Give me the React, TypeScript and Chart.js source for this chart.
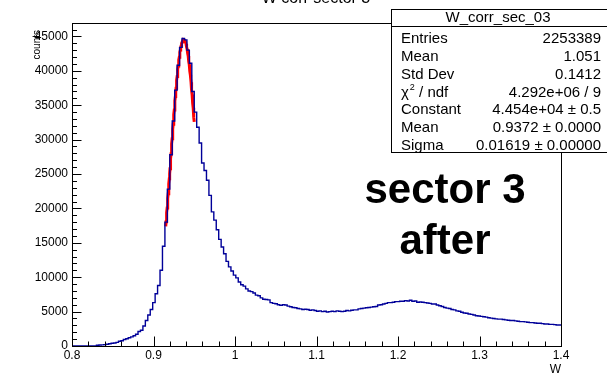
import { useEffect, useRef } from "react";
import { Chart, registerables } from "chart.js";

Chart.register(...registerables);

// Histogram definition: 200 bins of W between 0.8 and 1.4
const HIST_NAME = "W_corr_sec_03";
const TITLE = "W corr sector 3";
const X_TITLE = "W";
const Y_TITLE = "counts";
const BIN_LOW = 0.8;
const BIN_HIGH = 1.4;
const BIN_WIDTH = 0.003;

const COUNTS = [
  0, 0, 0, 0, 0, 0, 0, 0, 0, 0,
  100, 150, 170, 200, 260, 330, 390, 430, 520, 700,
  760, 950, 1050, 1200, 1320, 1500, 1700, 2100, 2300, 2900,
  3700, 4500, 5300, 6300, 7600, 8800, 11000, 14500, 18000, 22800,
  27800, 32700, 37200, 40800, 43400, 44700, 44500, 43000, 41100, 37000,
  34000, 31800, 29500, 26600, 25500, 24100, 21900, 19500, 18300, 16900,
  15500, 14400, 13400, 12300, 11500, 10900, 10300, 9900, 9300, 8900,
  8700, 8300, 8000, 7900, 7700, 7400, 7300, 7000, 6800, 6750,
  6700, 6300, 6200, 6150, 6000, 5900, 6000, 5950, 5800, 5700,
  5600, 5550, 5450, 5400, 5300, 5350, 5300, 5200, 5250, 5150,
  5050, 5100, 5000, 5050, 4950, 5000, 5050, 5000, 5100, 5050,
  5000, 5050, 5150, 5100, 5200, 5250, 5250, 5400, 5450, 5500,
  5550, 5600, 5650, 5700, 5750, 5950, 6000, 6100, 6200, 6300,
  6300, 6350, 6450, 6450, 6500, 6500, 6600, 6550, 6650, 6500,
  6550, 6350, 6400, 6350, 6300, 6250, 6200, 6100, 6100, 5950,
  5850, 5750, 5600, 5500, 5450, 5300, 5250, 5100, 5050, 4900,
  4800, 4750, 4650, 4600, 4500, 4400, 4350, 4300, 4250, 4200,
  4100, 4050, 4000, 3950, 3900, 3900, 3850, 3800, 3750, 3700,
  3700, 3650, 3600, 3550, 3550, 3500, 3450, 3400, 3400, 3350,
  3300, 3300, 3250, 3200, 3200, 3150, 3150, 3100, 3050, 3050,
];

// Axis ticks
const X_TICKS = [0.8, 0.9, 1.0, 1.1, 1.2, 1.3, 1.4];
const X_TICK_LABELS = ["0.8", "0.9", "1", "1.1", "1.2", "1.3", "1.4"];
const X_MINOR_STEP = 0.02;
const Y_TICKS = [0, 5000, 10000, 15000, 20000, 25000, 30000, 35000, 40000, 45000];
const Y_TICK_LABELS = ["0", "5000", "10000", "15000", "20000", "25000", "30000", "35000", "40000", "45000"];
const Y_MINOR_STEP = 1000;
const Y_MAX = 46950;

// Gaussian fit result
const FIT_CONSTANT = 4.454e4;
const FIT_MEAN = 0.9372;
const FIT_SIGMA = 0.01619;
const FIT_RANGE = [0.915, 0.95];
const FIT_SAMPLES = 80;

// Statistics box rows
const STATS_LABELS = ["Entries", "Mean", "Std Dev", "χ2 / ndf", "Constant", "Mean", "Sigma"];
const STATS_VALUES = [
  "2253389",
  "1.051",
  "0.1412",
  "4.292e+06 / 9",
  "4.454e+04 ± 0.5",
  "0.9372 ± 0.0000",
  "0.01619 ± 0.00000",
];

const NOTE_LINES = ["sector 3", "after"];

const FONT = "'Liberation Sans', Arial, Helvetica, sans-serif";
const HIST_COLOR = "#000099";
const FIT_COLOR = "#ff0000";

function gauss(x: number): number {
  const d = (x - FIT_MEAN) / FIT_SIGMA;
  return FIT_CONSTANT * Math.exp(-0.5 * d * d);
}

const rootDecorations = {
  id: "rootDecorations",
  afterDatasetsDraw(chart: any) {
    const { ctx, chartArea: a, scales } = chart;
    const xs = scales.x;
    const ys = scales.y;
    const L = Math.round(a.left) + 0.5;
    const B = Math.round(a.bottom) + 0.5;
    ctx.save();
    ctx.strokeStyle = "#000";
    ctx.lineWidth = 1;
    // frame
    ctx.strokeRect(L, Math.round(a.top) + 0.5, Math.round(a.right - a.left), Math.round(a.bottom - a.top));
    ctx.beginPath();
    // y ticks (inside the frame, on the left axis)
    const nY = Math.floor(Y_MAX / Y_MINOR_STEP);
    for (let k = 0; k <= nY; k++) {
      const v = k * Y_MINOR_STEP;
      const y = Math.round(ys.getPixelForValue(v)) + 0.5;
      const len = k % 5 === 0 ? 9 : 4.5;
      ctx.moveTo(L, y);
      ctx.lineTo(L + len, y);
    }
    // x ticks (inside the frame, on the bottom axis)
    const nX = Math.round((BIN_HIGH - BIN_LOW) / X_MINOR_STEP);
    for (let k = 0; k <= nX; k++) {
      const v = BIN_LOW + k * X_MINOR_STEP;
      const x = Math.round(xs.getPixelForValue(v)) + 0.5;
      const len = k % 5 === 0 ? 10 : 5;
      ctx.moveTo(x, B);
      ctx.lineTo(x, B - len);
    }
    ctx.stroke();
    ctx.restore();
  },
  afterDraw(chart: any) {
    const { ctx, chartArea: a } = chart;
    ctx.save();
    ctx.fillStyle = "#000";

    // histogram title (partly above the canvas edge)
    ctx.font = `16px ${FONT}`;
    ctx.textAlign = "center";
    ctx.textBaseline = "alphabetic";
    ctx.fillText(TITLE, 316, 3);

    // axis titles
    ctx.font = `12px ${FONT}`;
    ctx.textAlign = "right";
    ctx.fillText(X_TITLE, a.right, 373);
    ctx.save();
    ctx.translate(40, 30);
    ctx.rotate(-Math.PI / 2);
    ctx.font = `10px ${FONT}`;
    ctx.textAlign = "right";
    ctx.textBaseline = "alphabetic";
    ctx.fillText(Y_TITLE, 0, 0);
    ctx.restore();

    // statistics box
    const bx = 391.5, by = 9.5, bw = 220, bh = 143;
    ctx.fillStyle = "#fff";
    ctx.fillRect(bx, by, bw, bh);
    ctx.strokeStyle = "#000";
    ctx.lineWidth = 1;
    ctx.strokeRect(bx, by, bw, bh);
    ctx.beginPath();
    ctx.moveTo(bx, 26.5);
    ctx.lineTo(bx + bw, 26.5);
    ctx.stroke();
    ctx.fillStyle = "#000";
    ctx.font = `15px ${FONT}`;
    ctx.textBaseline = "middle";
    ctx.textAlign = "center";
    ctx.fillText(HIST_NAME, 498, 18);
    const rowTop = 39;
    const rowStep = 17.8;
    STATS_LABELS.forEach((label, i) => {
      const y = rowTop + i * rowStep;
      ctx.textAlign = "left";
      if (label.startsWith("χ2")) {
        ctx.font = `15px ${FONT}`;
        ctx.fillText("χ", 401, y);
        const w1 = ctx.measureText("χ").width;
        ctx.font = `9px ${FONT}`;
        ctx.fillText("2", 401 + w1 + 1, y - 5);
        const w2 = ctx.measureText("2").width;
        ctx.font = `15px ${FONT}`;
        ctx.fillText(label.slice(2), 401 + w1 + w2 + 1, y);
      } else {
        ctx.font = `15px ${FONT}`;
        ctx.fillText(label, 401, y);
      }
      ctx.textAlign = "right";
      ctx.font = `15px ${FONT}`;
      ctx.fillText(STATS_VALUES[i], 601, y);
    });

    // annotation
    ctx.font = `bold 42px ${FONT}`;
    ctx.textAlign = "center";
    ctx.textBaseline = "alphabetic";
    NOTE_LINES.forEach((line, i) => ctx.fillText(line, 445, 203 + i * 51));
    ctx.restore();
  },
};

export default function App() {
  const canvasRef = useRef<HTMLCanvasElement | null>(null);

  useEffect(() => {
    const canvas = canvasRef.current;
    if (!canvas) return;

    const histPoints = COUNTS.map((c, i) => ({ x: BIN_LOW + i * BIN_WIDTH, y: c }));
    histPoints.push({ x: BIN_HIGH, y: COUNTS[COUNTS.length - 1] });

    const fitPoints: { x: number; y: number }[] = [];
    for (let k = 0; k <= FIT_SAMPLES; k++) {
      const x = FIT_RANGE[0] + ((FIT_RANGE[1] - FIT_RANGE[0]) * k) / FIT_SAMPLES;
      fitPoints.push({ x, y: gauss(x) });
    }

    const tickFont = { family: FONT, size: 12 };

    const chart = new Chart(canvas, {
      type: "line",
      data: {
        datasets: [
          {
            data: histPoints,
            borderColor: HIST_COLOR,
            borderWidth: 1.4,
            stepped: "before",
            pointRadius: 0,
            fill: false,
          },
          {
            data: fitPoints,
            borderColor: FIT_COLOR,
            borderWidth: 3,
            pointRadius: 0,
            tension: 0,
            fill: false,
          },
        ],
      },
      options: {
        responsive: false,
        animation: false,
        devicePixelRatio: 1,
        events: [],
        layout: { padding: { left: 0, top: 23, right: 46, bottom: 0 } },
        plugins: {
          legend: { display: false },
          tooltip: { enabled: false },
          title: { display: false },
        },
        scales: {
          x: {
            type: "linear",
            min: BIN_LOW,
            max: BIN_HIGH,
            grid: { display: false, drawTicks: false },
            border: { display: false },
            afterBuildTicks: (s: any) => {
              s.ticks = X_TICKS.map((v) => ({ value: v }));
            },
            afterFit: (s: any) => {
              s.height = 28;
            },
            ticks: {
              autoSkip: false,
              maxRotation: 0,
              padding: 2,
              color: "#000",
              font: tickFont,
              callback: (_v: any, i: number) => X_TICK_LABELS[i],
            },
          },
          y: {
            type: "linear",
            min: 0,
            max: Y_MAX,
            grid: { display: false, drawTicks: false },
            border: { display: false },
            afterBuildTicks: (s: any) => {
              s.ticks = Y_TICKS.map((v) => ({ value: v }));
            },
            afterFit: (s: any) => {
              s.width = 72;
            },
            ticks: {
              autoSkip: false,
              padding: 4,
              color: "#000",
              font: tickFont,
              callback: (_v: any, i: number) => Y_TICK_LABELS[i],
            },
          },
        },
      },
      plugins: [rootDecorations],
    });

    return () => chart.destroy();
  }, []);

  return (
    <div style={{ position: "fixed", left: 0, top: 0, width: 607, height: 374, background: "#fff" }}>
      <canvas ref={canvasRef} width={607} height={374} style={{ display: "block" }} />
    </div>
  );
}
